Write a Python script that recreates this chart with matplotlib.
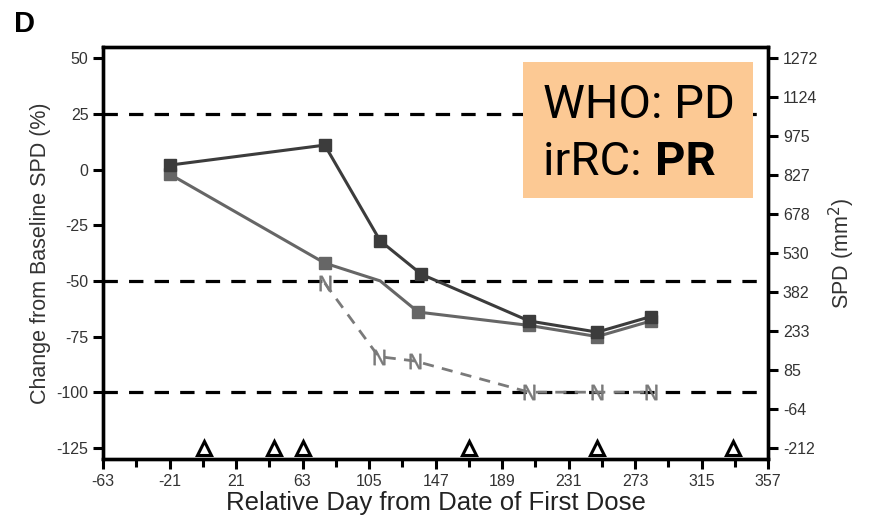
import matplotlib
matplotlib.use('Agg')
import matplotlib.pyplot as plt
import numpy as np

plt.rcParams['font.family'] = ['Liberation Sans', 'DejaVu Sans']

# Tumour burden over time (percent change from baseline SPD)
days_a = [-21, 77, 112, 138, 206, 249, 283]
pct_a = [2, 11, -32, -47, -68, -73, -66]

days_b = [-21, 77, 112, 136, 206, 249, 283]
pct_b = [-2, -42, -50, -64, -70, -75, -68]
marked_b = [0, 1, 3, 4, 5, 6]

# New lesions (N) track
days_n = [77, 111, 134, 206, 249, 283]
pct_n = [-51, -84, -86, -100, -100, -100]

# Dose days
dose_days = [1, 45, 63, 168, 249, 335]
dose_level = -125

ref_lines = [25, -50, -100]
baseline_spd = 848.0

x_ticks = list(range(-63, 358, 42))
y_ticks = [50, 25, 0, -25, -50, -75, -100, -125]
spd_ticks = [1272, 1124, 975, 827, 678, 530, 382, 233, 85, -64, -212]

fig = plt.figure(figsize=(8.73, 5.30), dpi=100)
ax = fig.add_axes([0.118, 0.134, 0.762, 0.777])

for y in ref_lines:
    ax.axhline(y, color='black', lw=2.3, ls=(0, (4.5, 3.5)), zorder=1)

ax.plot(days_n, pct_n, color='#7a7a7a', lw=2.0, ls=(0, (4, 3)),
        marker='$\\mathrm{N}$', markersize=11, markeredgewidth=0.3, zorder=2)
ax.plot(days_b, pct_b, color='#666666', lw=2.2, marker='s', markersize=8,
        markevery=marked_b, zorder=3)
ax.plot(days_a, pct_a, color='#3c3c3c', lw=2.2, marker='s', markersize=8, zorder=4)

ax.plot(dose_days, [dose_level] * len(dose_days), ls='none', marker='^',
        markersize=10, markerfacecolor='white', markeredgecolor='black',
        markeredgewidth=2.2, zorder=5, clip_on=False)

ax.set_xlim(-63, 357)
ax.set_ylim(-130, 55)
ax.set_xticks(x_ticks)
ax.set_xticklabels([str(v) for v in x_ticks])
ax.set_xticks(list(range(-42, 358, 42)), minor=True)
ax.set_yticks(y_ticks)
ax.set_yticklabels([str(v) for v in y_ticks])

for s in ax.spines.values():
    s.set_linewidth(2.4)
ax.tick_params(axis='both', which='major', direction='out', length=7, width=2.2,
               labelsize=11.5, labelcolor='#333333')
ax.tick_params(axis='x', which='minor', direction='out', length=6, width=2.2)

ax.set_xlabel('Relative Day from Date of First Dose', fontsize=18.5, color='#222222', labelpad=2)
ax.set_ylabel('Change from Baseline SPD (%)', fontsize=15.5, color='#333333', labelpad=4)

# Right axis in absolute SPD
ax2 = ax.twinx()
ax2.set_ylim(baseline_spd * (1 + np.array(ax.get_ylim()) / 100))
ax2.set_yticks(spd_ticks)
ax2.set_yticklabels([str(v) for v in spd_ticks])
for s in ax2.spines.values():
    s.set_linewidth(2.4)
ax2.tick_params(axis='y', direction='out', length=7, width=2.2,
                labelsize=11.5, labelcolor='#333333')
ax2.set_ylabel('SPD (mm$^2$)', fontsize=15.5, color='#333333', labelpad=6)

# Response annotation box
box = plt.Rectangle((0.599, 0.626), 0.264, 0.257, transform=fig.transFigure,
                    facecolor='#FCC994', edgecolor='none', zorder=10)
fig.patches.append(box)
fig.text(0.622, 0.777, 'WHO: PD', fontsize=34, family='Roboto', color='black',
         va='baseline', zorder=11)
fig.text(0.622, 0.670, 'irRC: ', fontsize=34, family='Roboto', color='black',
         va='baseline', zorder=11)
fig.text(0.750, 0.670, 'PR', fontsize=34, family='Roboto', fontweight='bold',
         color='black', va='baseline', zorder=11)

fig.text(0.016, 0.94, 'D', fontsize=21, fontweight='bold', color='black', va='baseline')

fig.savefig('out.png', dpi=100)
